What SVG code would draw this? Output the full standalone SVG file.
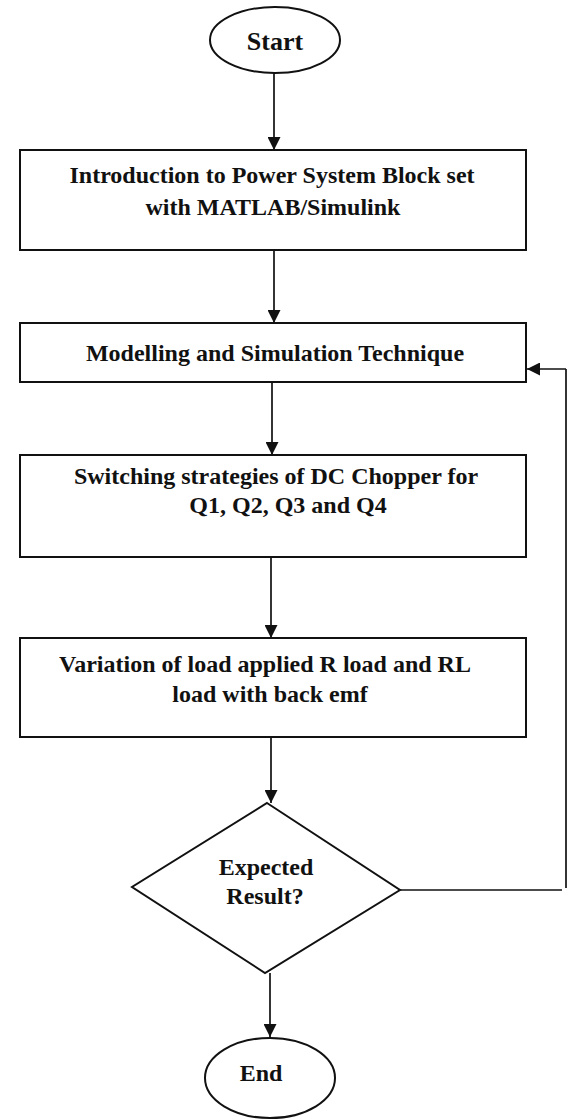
<svg xmlns="http://www.w3.org/2000/svg" width="568" height="1120" viewBox="0 0 568 1120">
<defs>
<style>
.shape{fill:#fff;stroke:#111;stroke-width:2}
.t{font-family:"Liberation Serif","Times New Roman",serif;font-weight:bold;font-size:24px;fill:#111;text-anchor:middle}
.c{fill:none;stroke:#111;stroke-width:1.7}
</style>
<marker id="ah" viewBox="0 0 10 10" refX="10" refY="5" markerWidth="15" markerHeight="13" markerUnits="userSpaceOnUse" orient="auto">
<path d="M0,0 L10,5 L0,10 z" fill="#111"/>
</marker>
</defs>
<rect width="568" height="1120" fill="#fff"/>
<g id="connectors">
<line class="c" x1="274" y1="73" x2="274" y2="150" marker-end="url(#ah)"/>
<line class="c" x1="274" y1="250" x2="274" y2="323" marker-end="url(#ah)"/>
<line class="c" x1="272" y1="382" x2="272" y2="455" marker-end="url(#ah)"/>
<line class="c" x1="271" y1="557" x2="271" y2="638" marker-end="url(#ah)"/>
<line class="c" x1="271" y1="737" x2="271" y2="803" marker-end="url(#ah)"/>
<line class="c" x1="270" y1="973" x2="270" y2="1037" marker-end="url(#ah)"/>
<polyline class="c" points="400,890 562,890"/>
<polyline class="c" points="566,888 566,369" stroke="#c8c8c8"/>
<line class="c" x1="566" y1="369" x2="527" y2="369" marker-end="url(#ah)"/>
</g>
<g id="start">
<ellipse class="shape" cx="275" cy="40" rx="65" ry="33"/>
<text class="t" x="275" y="50" style="font-size:26px">Start</text>
</g>
<g id="intro">
<rect class="shape" x="20" y="150" width="506" height="100"/>
<text class="t" x="272" y="183">Introduction to Power System Block set</text>
<text class="t" x="273" y="215">with MATLAB/Simulink</text>
</g>
<g id="modelling">
<rect class="shape" x="20" y="323" width="506" height="59"/>
<text class="t" x="275" y="361">Modelling and Simulation Technique</text>
</g>
<g id="switching">
<rect class="shape" x="20" y="455" width="506" height="102"/>
<text class="t" x="276" y="484">Switching strategies of DC Chopper for</text>
<text class="t" x="288" y="513">Q1, Q2, Q3 and Q4</text>
</g>
<g id="variation">
<rect class="shape" x="20" y="638" width="506" height="99"/>
<text class="t" x="265" y="672">Variation of load applied R load and RL</text>
<text class="t" x="270" y="702">load with back emf</text>
</g>
<g id="decision">
<polygon class="shape" points="267,803 400,890 265,973 132,887"/>
<text class="t" x="266" y="875">Expected</text>
<text class="t" x="265" y="904">Result?</text>
</g>
<g id="end">
<ellipse class="shape" cx="270" cy="1078" rx="65" ry="40"/>
<text class="t" x="261" y="1081">End</text>
</g>
</svg>
